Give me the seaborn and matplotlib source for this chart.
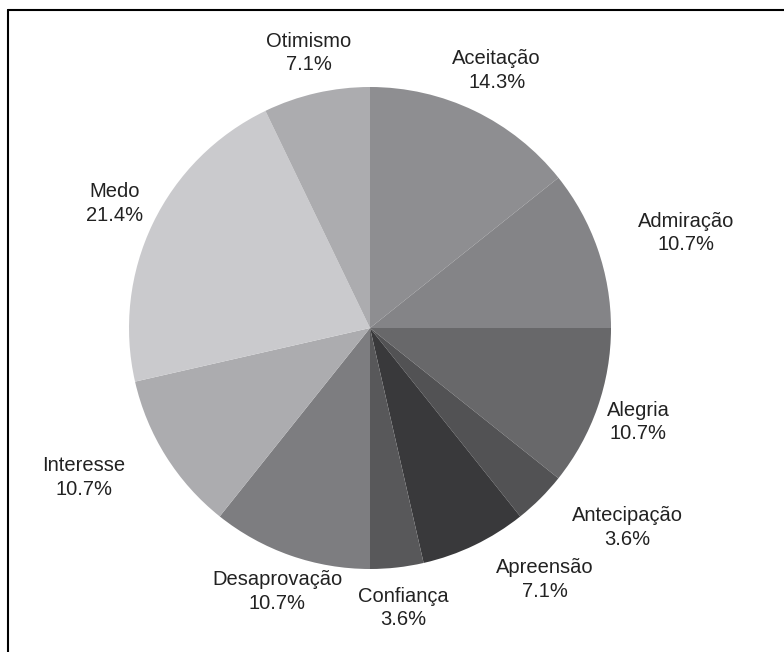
import numpy as np
import matplotlib
matplotlib.use("Agg")
import matplotlib.pyplot as plt
from matplotlib.lines import Line2D
import seaborn as sns

categories = ["Aceitação", "Admiração", "Alegria", "Antecipação", "Apreensão",
              "Confiança", "Desaprovação", "Interesse", "Medo", "Otimismo"]
counts = [4, 3, 3, 1, 2, 1, 3, 3, 6, 2]
colors = ["#8e8e91", "#848487", "#68686a", "#525254", "#39393b",
          "#58585a", "#7d7d80", "#acacaf", "#cacacd", "#acacaf"]

# label placement (radius factor, angle offset in degrees from slice middle)
label_r = [1.19, 1.37, 1.18, 1.35, 1.27, 1.17, 1.16, 1.34, 1.18, 1.17]
label_dtheta = [-0.5, -2.6, 0.0, 7.2, 9.1, 0.3, -0.1, -4.6, -0.3, -0.3]

sns.set_theme(style="white")
plt.rcParams["font.family"] = ["Liberation Sans", "DejaVu Sans"]

W, H = 784, 652
fig = plt.figure(figsize=(W / 100, H / 100), dpi=100)
cx, cy, R = 370, 328, 241
ax = fig.add_axes([(cx - R) / W, (H - cy - R) / H, 2 * R / W, 2 * R / H])

wedges, _ = ax.pie(counts, colors=colors, startangle=90, counterclock=False,
                   radius=1, wedgeprops=dict(linewidth=0))
ax.set_xlim(-1, 1)
ax.set_ylim(-1, 1)
ax.set_aspect("auto")
ax.axis("off")

total = sum(counts)
for w, name, c, r, dt in zip(wedges, categories, counts, label_r, label_dtheta):
    mid = (w.theta1 + w.theta2) / 2 + dt
    x = r * np.cos(np.deg2rad(mid))
    y = r * np.sin(np.deg2rad(mid))
    ax.text(x, y, f"{name}\n{100 * c / total:.1f}%", ha="center", va="center",
            fontsize=14.5, color="#222222", linespacing=1.3, clip_on=False)

# frame lines (top and left)
fig.add_artist(Line2D([8 / W, 1], [1 - 10 / H, 1 - 10 / H], color="black", lw=1.5,
                      transform=fig.transFigure))
fig.add_artist(Line2D([8 / W, 8 / W], [0, 1 - 10 / H], color="black", lw=1.5,
                      transform=fig.transFigure))

fig.savefig("out.png", dpi=100, facecolor="white")
